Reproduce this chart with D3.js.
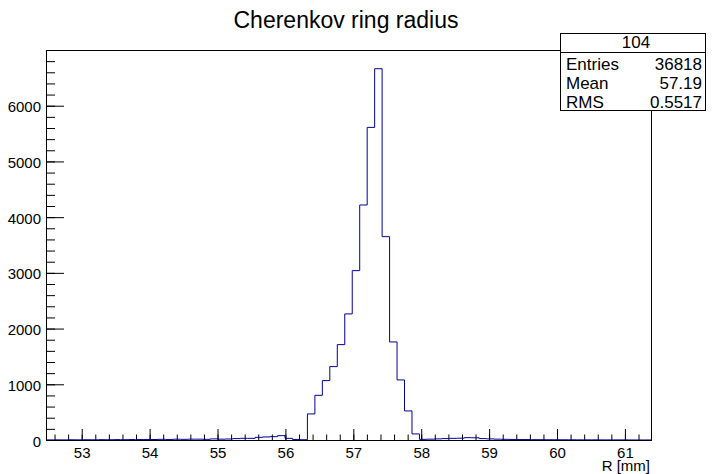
<!DOCTYPE html>
<html>
<head>
<meta charset="utf-8">
<script src="https://cdn.jsdelivr.net/npm/d3@7"></script>
<style>
  body { margin: 0; background: #fff; }
  text { font-family: "Liberation Sans", Arial, Helvetica, sans-serif; fill: #000; }
</style>
</head>
<body>
<script>
// histogram bin contents, 81 bins of 0.11 mm starting at 52.474
var binCounts = [
    2, 3, 2, 4, 3, 5, 4, 6, 5, 7, 6, 8, 8, 10, 9, 12, 10, 14, 12, 15,
    15, 12, 20, 15, 18, 25, 30, 30, 48, 55, 60, 78, 30, 10, 5,
    468, 802, 1066, 1317, 1712, 2263, 3040, 4218, 5611, 6664, 3650, 1760, 1078, 522, 109,
    12, 15, 20, 25, 30, 32, 42, 40, 25, 20, 15, 12, 10, 8, 8, 6, 6, 5, 5, 4,
    4, 3, 3, 3, 2, 2, 2, 2, 1, 1, 1
];
var binStart = 52.474;
var binWidth = 0.11;

var xTicks = [53, 54, 55, 56, 57, 58, 59, 60, 61];
var yTicks = [0, 1000, 2000, 3000, 4000, 5000, 6000];

var title = "Cherenkov ring radius";
var xTitle = "R [mm]";
var statsHeader = "104";
var statNames = ["Entries", "Mean", "RMS"];
var statValues = ["36818", "57.19", "0.5517"];

// frame of the pad
var margin = { top: 50, right: 61, bottom: 34, left: 46 },
    width = 712 - margin.left - margin.right,
    height = 474 - margin.top - margin.bottom;

var x = d3.scaleLinear().domain([binStart, binStart + binWidth * binCounts.length]).range([0, width]);
var y = d3.scaleLinear().domain([0, 7000]).range([height, 0]);

var root = d3.select("body").append("svg")
    .attr("width", 712)
    .attr("height", 474);

root.append("rect").attr("width", 712).attr("height", 474).attr("fill", "#fff");

var svg = root.append("g")
    .attr("transform", "translate(" + margin.left + "," + margin.top + ")");

// minor ticks every 0.2 on x, every 200 on y
var xMinor = d3.range(52.6, 61.35, 0.2).map(function (d) { return +d.toFixed(1); });
var yMinor = d3.range(0, 7000, 200);

svg.append("g")
    .attr("transform", "translate(0," + height + ")")
    .call(d3.axisBottom(x).tickValues(xMinor).tickSizeInner(-5.5).tickSizeOuter(0).tickFormat(""))
    .call(function (g) { g.select(".domain").remove(); });

svg.append("g")
    .call(d3.axisLeft(y).tickValues(yMinor).tickSizeInner(-9).tickSizeOuter(0).tickFormat(""))
    .call(function (g) { g.select(".domain").remove(); });

// major ticks with labels
var xAxis = svg.append("g")
    .attr("transform", "translate(0," + height + ")")
    .call(d3.axisBottom(x).tickValues(xTicks).tickSizeInner(-11).tickSizeOuter(0).tickPadding(7).tickFormat(d3.format("d")));
xAxis.select(".domain").remove();
xAxis.selectAll("text").style("font-size", "15px").style("font-family", null);

var yAxis = svg.append("g")
    .call(d3.axisLeft(y).tickValues(yTicks).tickSizeInner(-18).tickSizeOuter(0).tickPadding(5).tickFormat(d3.format("d")));
yAxis.select(".domain").remove();
yAxis.selectAll("text").style("font-size", "15px").style("font-family", null).attr("dy", "0.4em");

svg.selectAll(".tick line").attr("stroke", "#000");

// histogram outline
var steps = binCounts.map(function (c, i) { return [binStart + i * binWidth, c]; });
steps.push([binStart + binCounts.length * binWidth, binCounts[binCounts.length - 1]]);

var line = d3.line()
    .x(function (d) { return x(d[0]); })
    .y(function (d) { return y(d[1]); })
    .curve(d3.curveStepAfter);

svg.append("path")
    .datum(steps)
    .attr("d", line)
    .attr("fill", "none")
    .attr("stroke", "#000099")
    .attr("stroke-width", 1);

// frame
svg.append("rect")
    .attr("x", 0.5).attr("y", 0.5)
    .attr("width", width).attr("height", height)
    .attr("fill", "none")
    .attr("stroke", "#000")
    .attr("stroke-width", 1);

// title
root.append("text")
    .attr("x", 346).attr("y", 28)
    .attr("text-anchor", "middle")
    .style("font-size", "23px")
    .text(title);

// x axis title
root.append("text")
    .attr("x", 650).attr("y", 471)
    .attr("text-anchor", "end")
    .style("font-size", "15px")
    .text(xTitle);

// stats box
var stats = root.append("g");
stats.append("rect")
    .attr("x", 560.5).attr("y", 33.5)
    .attr("width", 145).attr("height", 77)
    .attr("fill", "#fff").attr("stroke", "#000");
stats.append("line")
    .attr("x1", 560.5).attr("x2", 705.5)
    .attr("y1", 52.5).attr("y2", 52.5)
    .attr("stroke", "#000");
stats.append("text")
    .attr("x", 636).attr("y", 48)
    .attr("text-anchor", "middle")
    .style("font-size", "17px")
    .text(statsHeader);

statNames.forEach(function (name, i) {
    var yy = 70 + i * 19;
    stats.append("text")
        .attr("x", 566).attr("y", yy)
        .style("font-size", "17px")
        .text(name);
    stats.append("text")
        .attr("x", 702).attr("y", yy)
        .attr("text-anchor", "end")
        .style("font-size", "17px")
        .text(statValues[i]);
});
</script>
</body>
</html>
